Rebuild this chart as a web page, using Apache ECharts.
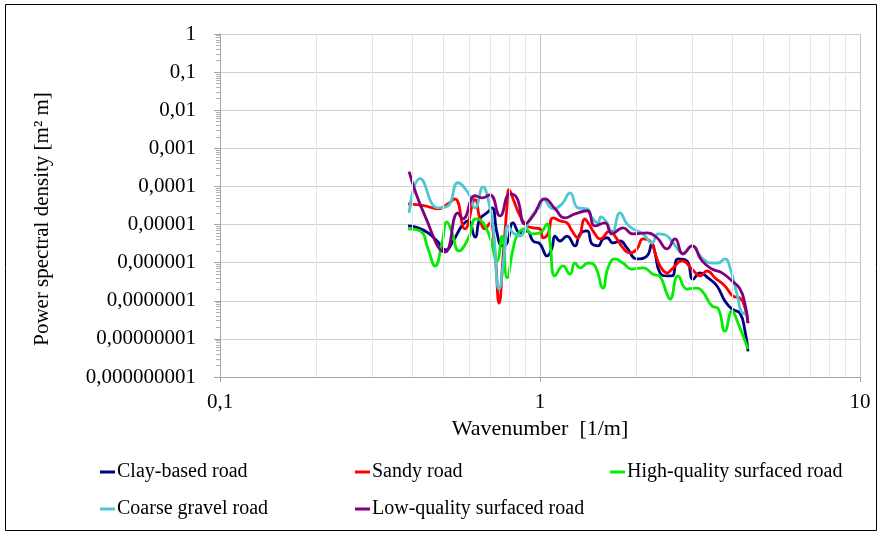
<!DOCTYPE html>
<html>
<head>
<meta charset="utf-8">
<script src="https://cdn.jsdelivr.net/npm/echarts@6/dist/echarts.min.js"></script>
<style>html,body{margin:0;padding:0;background:#fff}#c{width:882px;height:534px}</style>
</head>
<body>
<div id="c"></div>
<script>
// Wavenumber [1/m], PSD [m^2 m] pairs
const clayBased = [[0.387,9.2e-6],[0.416,8.2e-6],[0.447,6.05e-6],[0.477,3.7e-6],[0.508,2.15e-6],[0.535,3.7e-6],[0.570,9.2e-6],[0.596,1.25e-5],[0.627,4.7e-6],[0.649,1.41e-5],[0.683,2.03e-5],[0.708,2.75e-5],[0.734,6.05e-6],[0.761,2.75e-6],[0.789,3.3e-6],[0.824,1.11e-5],[0.866,6.05e-6],[0.911,6.8e-6],[0.951,3.7e-6],[1.0,3.1e-6],[1.052,1.5e-6],[1.090,2.44e-6],[1.114,5.0e-6],[1.155,3.7e-6],[1.214,5.0e-6],[1.286,2.75e-6],[1.334,5.7e-6],[1.403,6.8e-6],[1.454,3.1e-6],[1.518,2.75e-6],[1.574,4.2e-6],[1.620,4.5e-6],[1.692,3.3e-6],[1.778,3.7e-6],[1.870,2.44e-6],[2.010,1.25e-6],[2.159,1.5e-6],[2.239,3.1e-6],[2.288,1.8e-6],[2.371,5.4e-7],[2.494,4.5e-7],[2.585,4.5e-7],[2.700,1.25e-6],[2.877,1.11e-6],[3.007,3.7e-7],[3.162,5.4e-7],[3.350,4.0e-7],[3.573,2.44e-7],[3.784,9.8e-8],[3.981,6.05e-8],[4.217,4.7e-8],[4.372,1.6e-8],[4.467,4.7e-9]];
const sandy = [[0.387,3.5e-5],[0.437,3.1e-5],[0.480,2.6e-5],[0.516,3.5e-5],[0.542,4.7e-5],[0.583,7.7e-6],[0.627,4.5e-5],[0.649,1.41e-5],[0.673,7.7e-6],[0.698,1.11e-5],[0.723,1.8e-6],[0.745,8.7e-8],[0.766,1.25e-6],[0.789,3.1e-5],[0.800,8.2e-5],[0.824,4.7e-5],[0.866,1.69e-5],[0.911,9.2e-6],[0.951,8.2e-6],[1.0,7.7e-6],[1.022,4.5e-6],[1.059,5.7e-6],[1.098,1.5e-5],[1.155,1.25e-5],[1.214,1.11e-5],[1.259,6.8e-6],[1.314,4.5e-6],[1.382,1.41e-5],[1.413,1.11e-5],[1.485,5.7e-6],[1.540,4.2e-6],[1.655,6.8e-6],[1.715,5.0e-6],[1.816,2.44e-6],[1.910,1.8e-6],[2.010,2.3e-6],[2.099,4.2e-6],[2.207,3.7e-6],[2.321,1.25e-6],[2.406,6.8e-7],[2.494,5.4e-7],[2.585,6.8e-7],[2.779,1.11e-6],[2.985,6.8e-7],[3.162,4.5e-7],[3.325,6.05e-7],[3.522,4.0e-7],[3.784,2.44e-7],[4.010,1.33e-7],[4.217,1.18e-7],[4.372,6.4e-8],[4.467,2.6e-8]];
const highQuality = [[0.387,7.7e-6],[0.422,6.8e-6],[0.447,2.3e-6],[0.470,8.2e-7],[0.494,3.3e-6],[0.512,1.18e-5],[0.531,6.05e-6],[0.558,2.03e-6],[0.596,4.2e-6],[0.631,1.41e-5],[0.664,1.11e-5],[0.698,4.5e-6],[0.734,1.11e-6],[0.761,5.0e-6],[0.789,4.0e-7],[0.824,2.3e-6],[0.853,5.7e-6],[0.898,7.7e-6],[0.944,5.7e-6],[1.0,6.05e-6],[1.052,1.04e-5],[1.075,3.3e-6],[1.114,4.5e-7],[1.180,8.2e-7],[1.241,5.0e-7],[1.286,9.8e-7],[1.334,7.3e-7],[1.413,9.8e-7],[1.485,8.2e-7],[1.574,2.16e-7],[1.631,7.3e-7],[1.715,1.25e-6],[1.816,9.8e-7],[1.939,6.8e-7],[2.099,7.3e-7],[2.255,5.0e-7],[2.371,4.3e-7],[2.494,1.5e-7],[2.548,1.1e-7],[2.700,4.5e-7],[2.877,2.03e-7],[3.051,2.16e-7],[3.208,1.8e-7],[3.448,7.3e-8],[3.599,6.4e-8],[3.784,1.6e-8],[3.981,5.4e-8],[4.156,2.6e-8],[4.467,5.4e-9]];
const coarseGravel = [[0.390,2.03e-5],[0.422,1.6e-4],[0.480,2.75e-5],[0.516,3.1e-5],[0.554,1.25e-4],[0.596,6.8e-5],[0.627,2.75e-5],[0.664,9.8e-5],[0.688,4.7e-5],[0.713,9.2e-6],[0.745,2.03e-7],[0.777,2.3e-6],[0.794,9.2e-6],[0.824,6.05e-6],[0.866,5.0e-6],[0.898,7.7e-6],[0.944,1.69e-5],[1.0,3.1e-5],[1.022,4.7e-5],[1.098,2.6e-5],[1.172,3.5e-5],[1.241,6.8e-5],[1.314,2.75e-5],[1.403,2.6e-5],[1.454,1.5e-5],[1.518,1.11e-5],[1.55,1.6e-5],[1.620,1.11e-5],[1.679,5.7e-6],[1.778,2.03e-5],[1.870,1.04e-5],[1.953,7.7e-6],[2.099,5.7e-6],[2.239,3.3e-6],[2.338,5.7e-6],[2.459,5.4e-6],[2.604,3.3e-6],[2.799,1.8e-6],[2.985,2.75e-6],[3.208,1.33e-6],[3.448,9.8e-7],[3.599,9.8e-7],[3.784,1.25e-6],[3.926,7.3e-7],[4.127,1.5e-7],[4.308,4.7e-8],[4.467,4.5e-8]];
const lowQuality = [[0.390,2.44e-4],[0.437,1.69e-5],[0.505,1.9e-6],[0.554,2.03e-5],[0.574,1.41e-5],[0.627,5.7e-5],[0.659,5.0e-5],[0.698,6.0e-5],[0.750,1.69e-5],[0.806,6.4e-5],[0.847,5.0e-5],[0.898,1.04e-5],[0.951,1.69e-5],[1.037,4.7e-5],[1.114,2.6e-5],[1.197,1.5e-5],[1.286,1.91e-5],[1.403,2.3e-5],[1.485,9.2e-6],[1.596,1.11e-5],[1.679,5.7e-6],[1.816,8.2e-6],[1.953,5.7e-6],[2.159,6.05e-6],[2.321,4.5e-6],[2.494,2.3e-6],[2.642,4.2e-6],[2.799,1.69e-6],[2.985,2.75e-6],[3.208,1.11e-6],[3.448,6.8e-7],[3.704,5.4e-7],[3.981,3.3e-7],[4.217,2.03e-7],[4.372,8.2e-8],[4.467,2.6e-8]];

const seriesNames = ['Clay-based road','Sandy road','High-quality surfaced road','Coarse gravel road','Low-quality surfaced road'];
const seriesData = [clayBased, sandy, highQuality, coarseGravel, lowQuality];
const seriesColors = ['#000080','#ff0000','#00ee00','#4cc9d0','#800080'];
const xMinorGrid = [0.2,0.3,0.4,0.5,0.6,0.7,0.8,0.9,2,3,4,5,6,7,8,9];

const FONT = '"Liberation Serif", "Times New Roman", serif';
function fmtNum(v){
  const e = Math.round(Math.log10(v));
  if (e >= 0) return String(Math.round(v));
  return v.toFixed(-e).replace('.', ',');
}

const chart = echarts.init(document.getElementById('c'), null, {renderer:'canvas'});

const series = [{
  type:'line', data:[], silent:true, showSymbol:false,
  markLine:{silent:true, symbol:['none','none'], label:{show:false},
    lineStyle:{color:'#e4e4e4', width:1, type:'solid'},
    animation:false,
    data: xMinorGrid.map(v => ({xAxis:v}))}
}];
seriesNames.forEach((n,i)=>{
  series.push({name:n, type:'line', data:seriesData[i], smooth:0.5, showSymbol:false,
    lineStyle:{color:seriesColors[i], width:2.8}, itemStyle:{color:seriesColors[i]}, z:3});
});

const legendPos = [[100,462],[355,462],[610,462],[100,499],[355,499]];
const legends = seriesNames.map((n,i)=>({
  data:[n], left:legendPos[i][0], top:legendPos[i][1], icon:'rect', itemWidth:15, itemHeight:3,
  itemGap:0, padding:0, selectedMode:false,
  textStyle:{fontFamily:FONT, fontSize:20, color:'#000', padding:[0,0,0,-3]}
}));

chart.setOption({
  animation:false,
  backgroundColor:'#fff',
  grid:{left:220, right:22, top:34, bottom:157, containLabel:false},
  legend: legends,
  xAxis:{type:'log', logBase:10, min:0.1, max:10,
    name:'Wavenumber  [1/m]', nameLocation:'middle', nameGap:39,
    nameTextStyle:{fontFamily:FONT, fontSize:22, color:'#000'},
    axisLine:{lineStyle:{color:'#a6a6a6', width:1}},
    axisTick:{show:true, length:5, lineStyle:{color:'#a6a6a6'}},
    axisLabel:{fontFamily:FONT, fontSize:21, color:'#000', margin:15, formatter:fmtNum},
    splitLine:{show:true, lineStyle:{color:'#c4c4c4', width:1}}
  },
  yAxis:{type:'log', logBase:10, min:1e-9, max:1, interval:1,
    axisLine:{show:true, lineStyle:{color:'#a6a6a6', width:1}},
    axisTick:{show:true, length:6, lineStyle:{color:'#a6a6a6'}},
    minorTick:{show:true, splitNumber:9, length:4, lineStyle:{color:'#b0b0b0'}},
    axisLabel:{fontFamily:FONT, fontSize:21, color:'#000', margin:24, formatter:fmtNum},
    splitLine:{show:true, lineStyle:{color:'#cfcfcf', width:1}}
  },
  graphic:[
    {type:'rect', shape:{x:5.5, y:4.5, width:871, height:526}, style:{fill:'none', stroke:'#000', lineWidth:1}, silent:true},
    {type:'text', x:42, y:219, rotation:Math.PI/2, style:{text:'Power spectral density [m² m]', font:'21px ' + FONT, fill:'#000', align:'center', verticalAlign:'middle'}, silent:true}
  ],
  series: series
});
</script>
</body>
</html>
